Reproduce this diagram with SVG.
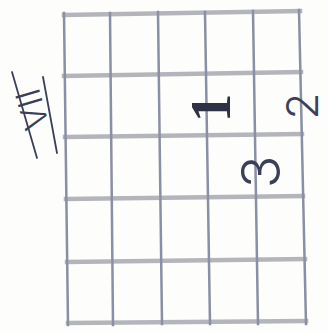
<svg xmlns="http://www.w3.org/2000/svg" width="328" height="331" viewBox="0 0 328 331">
  <style>
    .h { stroke: #b3b5bb; stroke-width: 4.5; stroke-linecap: square; }
    .v { stroke: #8a8fa3; stroke-width: 2.5; stroke-linecap: square; }
    .ink { fill: #3b4058; font-family: "Inter", "Liberation Sans", sans-serif; font-weight: 300; }
    .bar { stroke: #3b4058; stroke-width: 1.8; stroke-linecap: round; fill: none; }
  </style>
  <rect x="0" y="0" width="328" height="331" fill="#fdfdfc"/>
  <g id="grid">
    <line class="h" x1="64" y1="15" x2="300" y2="11"/>
    <line class="h" x1="64" y1="76" x2="301" y2="72"/>
    <line class="h" x1="65" y1="137" x2="302" y2="134"/>
    <line class="h" x1="66" y1="199" x2="303" y2="196"/>
    <line class="h" x1="67" y1="262" x2="305" y2="259"/>
    <line class="h" x1="68" y1="323" x2="306" y2="321"/>
    <line class="v" x1="64" y1="13" x2="68" y2="325"/>
    <line class="v" x1="110" y1="13" x2="113" y2="325"/>
    <line class="v" x1="158" y1="12" x2="162" y2="324"/>
    <line class="v" x1="205" y1="12" x2="210" y2="324"/>
    <line class="v" x1="253" y1="11" x2="258" y2="324"/>
    <line class="v" x1="299" y1="10" x2="306" y2="324"/>
  </g>
  <g id="fret-label">
    <line class="bar" x1="12" y1="72" x2="37" y2="158"/>
    <line class="bar" x1="43" y1="77" x2="57" y2="153"/>
    <text class="ink" font-size="34" text-anchor="middle" transform="translate(44,106) rotate(-106)">VII</text>
  </g>
  <g id="finger-1">
    <text font-family="Liberation Serif, serif" font-weight="bold" font-size="58" fill="#2e3244" text-anchor="middle" transform="translate(230,108) rotate(-90)">1</text>
  </g>
  <g id="finger-2">
    <text class="ink" font-size="44" text-anchor="middle" transform="translate(318,106) rotate(-90)">2</text>
  </g>
  <g id="finger-3">
    <text class="ink" font-size="54" text-anchor="middle" transform="translate(280,172) rotate(-90)">3</text>
  </g>
</svg>
